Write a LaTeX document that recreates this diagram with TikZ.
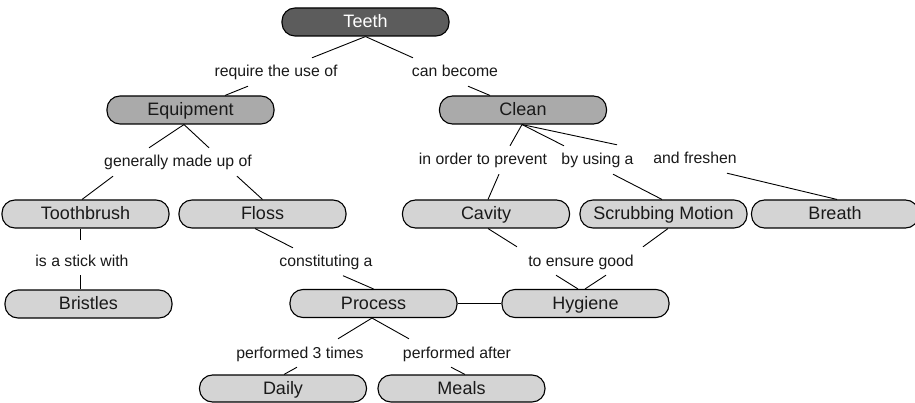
\documentclass[tikz,border=0pt]{standalone}
\usepackage{fontspec}
\setmainfont{Liberation Sans}
\usetikzlibrary{calc}
\definecolor{rootgray}{RGB}{92,92,92}
\definecolor{midgray}{RGB}{170,170,170}
\definecolor{lightgray}{RGB}{212,212,212}
\definecolor{inktext}{RGB}{25,25,25}
\begin{document}
\begin{tikzpicture}[x=1pt,y=-1pt,
  concept/.style={draw=black, line width=1.1pt, rounded corners=13pt,
    minimum width=167pt, minimum height=28pt, inner sep=0pt,
    text height=14pt, text depth=3pt, text=inktext,
    font=\fontsize{18}{20}\selectfont},
  root/.style={concept, fill=rootgray, text=white},
  major/.style={concept, fill=midgray},
  minor/.style={concept, fill=lightgray},
  linkword/.style={inner xsep=2pt, inner ysep=0pt, minimum height=28pt,
    text height=13pt, text depth=3pt, text=inktext,
    font=\fontsize{15.8}{18}\selectfont},
  link/.style={draw=black, line width=0.9pt}]
\useasboundingbox (0,0) rectangle (915,403);

% concepts
\node[root]  (teeth)    at (365.5,22)  {Teeth};
\node[major] (equip)    at (190.5,110) {Equipment};
\node[major] (clean)    at (523,110)   {Clean};
\node[minor] (brush)    at (85.5,214)  {Toothbrush};
\node[minor] (floss)    at (262.5,214) {Floss};
\node[minor] (cavity)   at (486,214)   {Cavity};
\node[minor] (scrub)    at (663.5,214) {Scrubbing Motion};
\node[minor] (breath)   at (835,214)   {Breath};
\node[minor] (bristles) at (88.5,304)  {Bristles};
\node[minor] (process)  at (373.5,303.5) {Process};
\node[minor] (hygiene)  at (585.5,303.5) {Hygiene};
\node[minor, minimum height=27pt] (daily) at (283,388.5) {Daily};
\node[minor, minimum height=27pt] (meals) at (461.5,388.5) {Meals};

% linking phrases
\node[linkword] (l1)  at (276,72)    {require the use of};
\node[linkword] (l2)  at (455,72)    {can become};
\node[linkword] (l3)  at (178,162)   {generally made up of};
\node[linkword] (l4)  at (483,160)   {in order to prevent};
\node[linkword] (l5)  at (597.5,160) {by using a};
\node[linkword] (l6)  at (695,159)   {and freshen};
\node[linkword] (l7)  at (82,262)    {is a stick with};
\node[linkword] (l8)  at (326,261.5) {constituting a};
\node[linkword] (l9)  at (581,261)   {to ensure good};
\node[linkword] (l10) at (300,353)   {performed 3 times};
\node[linkword] (l11) at (457,353)   {performed after};

% connectors
\draw[link] (teeth.south) -- ($(l1.north)+(36,0)$);
\draw[link] (teeth.south) -- ($(l2.north)+(-42,0)$);
\draw[link] ($(l1.south)+(-28,0)$) -- ($(equip.north)+(34.5,0)$);
\draw[link] ($(l2.south)+(13,0)$) -- ($(clean.north)+(-33,0)$);

\draw[link] ($(equip.south)+(-6.5,0)$) -- ($(l3.north)+(-29,0)$);
\draw[link] ($(equip.south)+(-6.5,0)$) -- ($(l3.north)+(31,0)$);
\draw[link] ($(l3.south)+(-65,0)$) -- ($(brush.north)+(-3.5,0)$);
\draw[link] ($(l3.south)+(59,0)$) -- (floss.north);

\draw[link] ($(clean.south)+(-1,0)$) -- ($(l4.north)+(27,0)$);
\draw[link] ($(clean.south)+(-1,0)$) -- ($(l5.north)+(-33.5,0)$);
\draw[link] ($(clean.south)+(-1,0)$) -- ($(l6.north)+(-78,0)$);
\draw[link] ($(l4.south)+(16,0)$) -- ($(cavity.north)+(2,0)$);
\draw[link] ($(l5.south)+(15.5,0)$) -- ($(scrub.north)+(-1.5,0)$);
\draw[link] ($(l6.south)+(32,0)$) -- ($(breath.north)+(2,0)$);

\draw[link] ($(brush.south)+(-5.5,0)$) -- ($(l7.north)+(-2,-8)$);
\draw[link] ($(l7.south)+(-2,-1)$) -- ($(bristles.north)+(-8.5,0)$);

\draw[link] ($(floss.south)+(-7.5,0)$) -- ($(l8.north)+(-33,0.5)$);
\draw[link] ($(l8.south)+(17,0)$) -- (process.north);

\draw[link] ($(cavity.south)+(2,0)$) -- ($(l9.north)+(-64,0)$);
\draw[link] ($(scrub.south)+(4.5,0)$) -- ($(l9.north)+(62,0)$);
\draw[link] ($(l9.south)+(-25,0)$) -- ($(hygiene.north)+(-7.5,0)$);
\draw[link] ($(l9.south)+(25,0)$) -- ($(hygiene.north)+(-0.5,0)$);

\draw[link] (process.east) -- (hygiene.west);

\draw[link] ($(process.south)+(-1.5,0)$) -- ($(l10.north)+(38,0)$);
\draw[link] ($(process.south)+(-1.5,0)$) -- ($(l11.north)+(-48,0)$);
\draw[link] ($(l10.south)+(-3,0)$) -- ($(daily.north)+(1,0)$);
\draw[link] ($(l11.south)+(-6,0)$) -- ($(meals.north)+(3.5,0)$);
\end{tikzpicture}
\end{document}
